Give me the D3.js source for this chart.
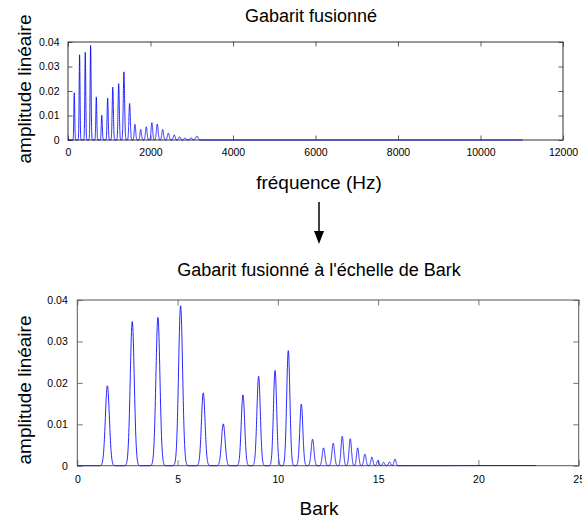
<!DOCTYPE html>
<html>
<head>
<meta charset="utf-8">
<script src="https://cdn.jsdelivr.net/npm/d3@7"></script>
<style>
html,body{margin:0;padding:0;background:#fff;}
svg{display:block;font-family:"Liberation Sans",Arial,Helvetica,sans-serif;}
</style>
</head>
<body>
<svg id="chart" width="582" height="522"></svg>
<script>
// ---- data ----
const peakBark = [1.50, 2.74, 4.02, 5.15, 6.28, 7.28, 8.26, 9.04, 9.86, 10.52, 11.17, 11.73,
                  12.28, 12.76, 13.21, 13.61, 13.98, 14.34, 14.69, 14.99, 15.27, 15.57, 15.84];
const peakAmp  = [0.0193, 0.0348, 0.0358, 0.0386, 0.0176, 0.0101, 0.0171, 0.0216, 0.0230, 0.0278, 0.0149, 0.0064,
                  0.0043, 0.0054, 0.0071, 0.0065, 0.0043, 0.0028, 0.0021, 0.0013, 0.0008, 0.0009, 0.0016];
const peakSigma = [0.10, 0.10, 0.10, 0.10, 0.09, 0.09, 0.085, 0.085, 0.08, 0.08, 0.075, 0.07,
                   0.065, 0.065, 0.06, 0.06, 0.055, 0.055, 0.05, 0.05, 0.05, 0.05, 0.05];
const maxFreq = 11025;
const hzTicks = [0, 2000, 4000, 6000, 8000, 10000, 12000];
const barkTicks = [0, 5, 10, 15, 20, 25];
const ampTicks = [0, 0.01, 0.02, 0.03, 0.04];
const titleTop = "Gabarit fusionné";
const titleBottom = "Gabarit fusionné à l'échelle de Bark";
const xLabelTop = "fréquence (Hz)";
const xLabelBottom = "Bark";
const yLabel = "amplitude linéaire";

// ---- Hz -> Bark (Zwicker) ----
const toBark = f => 13 * Math.atan(0.00076 * f) + 3.5 * Math.atan((f / 7500) * (f / 7500));
function ampAtBark(b) {
  let s = 0;
  for (let i = 0; i < peakBark.length; i++) {
    const z = (b - peakBark[i]) / peakSigma[i];
    if (Math.abs(z) < 6) s += peakAmp[i] * Math.exp(-0.5 * z * z);
  }
  return s;
}
const freqs = d3.range(0, maxFreq + 1, 1);
const spectrum = freqs.map(f => { const b = toBark(f); return {f, b, a: ampAtBark(b)}; });

const svg = d3.select("#chart");
const fmt = d => d === 0 ? "0" : String(+d.toFixed(2));

function panel(cfg) {
  const g = svg.append("g");
  const x = d3.scaleLinear().domain(cfg.xDomain).range([cfg.x0, cfg.x1]);
  const y = d3.scaleLinear().domain([0, 0.04]).range([cfg.y1, cfg.y0]);
  const tl = cfg.tick;
  // axes (inside ticks, mirrored)
  g.append("g").attr("transform", `translate(0,${cfg.y1})`)
    .call(d3.axisBottom(x).tickValues(cfg.xTicks).tickSize(-tl).tickPadding(tl + 4).tickFormat(d3.format("d")))
    .call(a => a.select(".domain").remove());
  g.append("g").attr("transform", `translate(0,${cfg.y0})`)
    .call(d3.axisTop(x).tickValues(cfg.xTicks).tickSize(-tl).tickFormat(""))
    .call(a => a.select(".domain").remove());
  g.append("g").attr("transform", `translate(${cfg.x0},0)`)
    .call(d3.axisLeft(y).tickValues(ampTicks).tickSize(-tl).tickPadding(tl + 4).tickFormat(fmt))
    .call(a => a.select(".domain").remove());
  g.append("g").attr("transform", `translate(${cfg.x1},0)`)
    .call(d3.axisRight(y).tickValues(ampTicks).tickSize(-tl).tickFormat(""))
    .call(a => a.select(".domain").remove());
  g.selectAll(".tick line").attr("stroke", cfg.axisColor).attr("stroke-width", 0.8);
  g.selectAll(".tick text").attr("font-size", 10.5).attr("fill", "#000")
    .attr("font-family", "Liberation Sans, Arial, Helvetica, sans-serif");
  g.append("rect").attr("x", cfg.x0).attr("y", cfg.y0)
    .attr("width", cfg.x1 - cfg.x0).attr("height", cfg.y1 - cfg.y0)
    .attr("fill", "none").attr("stroke", cfg.axisColor).attr("stroke-width", 1);
  // spectrum line
  const line = d3.line().x(d => x(cfg.xv(d))).y(d => y(d.a));
  g.append("path").datum(spectrum).attr("d", line)
    .attr("fill", "none").attr("stroke", "#0000ff").attr("stroke-width", 0.85)
    .attr("stroke-linejoin", "round");
  // texts
  g.append("text").attr("x", cfg.titleX).attr("y", cfg.titleY).attr("text-anchor", "middle")
    .attr("font-size", 18).text(cfg.title);
  g.append("text").attr("x", cfg.xlabX).attr("y", cfg.xlabY).attr("text-anchor", "middle")
    .attr("font-size", 19).text(cfg.xlab);
  g.append("text").attr("transform", `translate(${cfg.ylabX},${cfg.ylabY}) rotate(-90)`)
    .attr("text-anchor", "middle").attr("font-size", 19).text(yLabel);
}

panel({xDomain: [0, 12000], x0: 68, x1: 563, y0: 42, y1: 140, xTicks: hzTicks, tick: 4.5,
  axisColor: "#333", xv: d => d.f, title: titleTop, titleX: 311, titleY: 22,
  xlab: xLabelTop, xlabX: 319, xlabY: 189, ylabX: 31, ylabY: 89});
panel({xDomain: [0, 25], x0: 77.3, x1: 578.7, y0: 300, y1: 465.7, xTicks: barkTicks, tick: 5.5,
  axisColor: "#555", xv: d => d.b, title: titleBottom, titleX: 319, titleY: 276,
  xlab: xLabelBottom, xlabX: 319, xlabY: 515, ylabX: 31, ylabY: 390});

// arrow between the panels
svg.append("line").attr("x1", 319).attr("x2", 319).attr("y1", 202).attr("y2", 234)
  .attr("stroke", "#000").attr("stroke-width", 1.5);
svg.append("path").attr("d", "M314,231 L324,231 L319,244 Z").attr("fill", "#000");
</script>
</body>
</html>
